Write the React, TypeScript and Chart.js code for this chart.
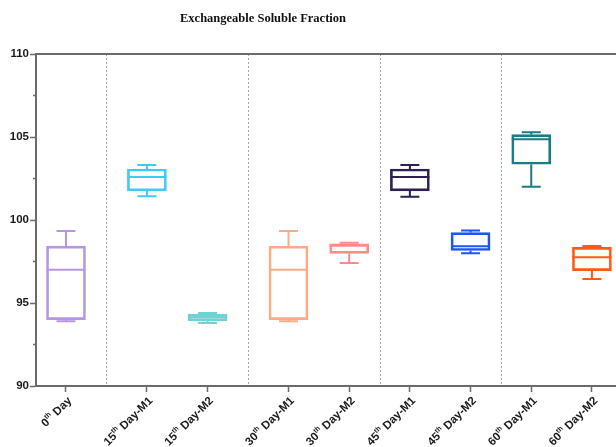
import React, { useEffect, useRef } from "react";
import { Chart, registerables } from "chart.js";

Chart.register(...registerables);

const titleText = "Exchangeable Soluble Fraction";
const categories = [
  "0th Day",
  "15th Day-M1",
  "15th Day-M2",
  "30th Day-M1",
  "30th Day-M2",
  "45th Day-M1",
  "45th Day-M2",
  "60th Day-M1",
  "60th Day-M2",
];
const whiskerLow = [93.9, 101.43, 93.8, 93.9, 97.41, 101.4, 98.0, 102.0, 96.45];
const q1 = [94.0, 101.75, 93.94, 94.0, 97.99, 101.75, 98.16, 103.36, 96.95];
const medians = [97.0, 102.59, 94.16, 97.0, 98.45, 102.59, 98.42, 104.86, 97.75];
const q3 = [98.43, 103.07, 94.34, 98.43, 98.57, 103.07, 99.24, 105.14, 98.35];
const whiskerHigh = [99.34, 103.31, 94.4, 99.34, 98.63, 103.31, 99.36, 105.28, 98.43];
const yTicks = [90, 95, 100, 105, 110];

// layout (not data): slot positions of the categories and group separators
const slots = [0, 4, 7, 11, 14, 17, 20, 23, 26];
const separators = [2, 9, 15.5, 21.5];
const colors = [
  "#b597e3",
  "#3ccbf4",
  "#74d1d1",
  "#ffaa86",
  "#ff8a8a",
  "#2f1f52",
  "#1c55f2",
  "#1a7c84",
  "#ff5a14",
];
const AXIS = "#6b6b6b";
const SANS = "'Liberation Sans', Arial, sans-serif";

const boxPlugin = {
  id: "boxExtras",
  beforeDatasetsDraw(chart: any) {
    const { ctx, chartArea, scales } = chart;
    const x = scales.x;
    ctx.save();
    ctx.strokeStyle = "#a8a8a8";
    ctx.lineWidth = 1;
    ctx.setLineDash([2, 2]);
    separators.forEach((s) => {
      const px = Math.round(x.getPixelForValue(s)) + 0.5;
      ctx.beginPath();
      ctx.moveTo(px, chartArea.top);
      ctx.lineTo(px, chartArea.bottom);
      ctx.stroke();
    });
    ctx.restore();
  },
  afterDatasetsDraw(chart: any) {
    const { ctx, chartArea, scales } = chart;
    const x = scales.x;
    const y = scales.y;
    ctx.save();
    ctx.lineWidth = 2;
    slots.forEach((s, i) => {
      const cx = x.getPixelForValue(s);
      const half = 19.5;
      const cap = 9.5;
      ctx.strokeStyle = colors[i];
      const yMed = y.getPixelForValue(medians[i]);
      const yQ1 = y.getPixelForValue(q1[i]);
      const yQ3 = y.getPixelForValue(q3[i]);
      const yLo = y.getPixelForValue(whiskerLow[i]);
      const yHi = y.getPixelForValue(whiskerHigh[i]);
      ctx.beginPath();
      ctx.moveTo(cx - half, yMed);
      ctx.lineTo(cx + half, yMed);
      ctx.moveTo(cx, yQ3);
      ctx.lineTo(cx, yHi);
      ctx.moveTo(cx - cap, yHi);
      ctx.lineTo(cx + cap, yHi);
      ctx.moveTo(cx, yQ1);
      ctx.lineTo(cx, yLo);
      ctx.moveTo(cx - cap, yLo);
      ctx.lineTo(cx + cap, yLo);
      ctx.stroke();
    });
    ctx.restore();

    // top frame line
    ctx.save();
    ctx.strokeStyle = AXIS;
    ctx.lineWidth = 2;
    ctx.beginPath();
    ctx.moveTo(chartArea.left, chartArea.top);
    ctx.lineTo(chartArea.right, chartArea.top);
    ctx.stroke();
    // minor y ticks
    ctx.lineWidth = 1.5;
    for (let k = 0; k < yTicks.length - 1; k++) {
      const v = (yTicks[k] + yTicks[k + 1]) / 2;
      const py = y.getPixelForValue(v);
      ctx.beginPath();
      ctx.moveTo(chartArea.left - 3, py);
      ctx.lineTo(chartArea.left, py);
      ctx.stroke();
    }
    ctx.restore();
  },
  afterDraw(chart: any) {
    const { ctx, scales, chartArea } = chart;
    const x = scales.x;
    ctx.save();
    // title
    ctx.fillStyle = "#111";
    ctx.font = "bold 12.5px 'Liberation Serif', 'Times New Roman', serif";
    ctx.textAlign = "center";
    ctx.textBaseline = "middle";
    ctx.fillText(titleText, 263, 19);

    // x labels with superscript ordinal
    ctx.fillStyle = "#1a1a1a";
    ctx.textBaseline = "middle";
    ctx.textAlign = "left";
    const mainFont = `bold 11.5px ${SANS}`;
    const supFont = `bold 7px ${SANS}`;
    categories.forEach((label, i) => {
      const m = label.match(/^(\d+)(th)(.*)$/);
      const parts = m ? [m[1], m[2], m[3]] : [label, "", ""];
      ctx.font = mainFont;
      const w0 = ctx.measureText(parts[0]).width;
      const w2 = ctx.measureText(parts[2]).width;
      ctx.font = supFont;
      const w1 = ctx.measureText(parts[1]).width;
      const total = w0 + w1 + w2;
      const cx = x.getPixelForValue(slots[i]);
      ctx.save();
      ctx.translate(cx + 4, chartArea.bottom + 13);
      ctx.rotate(-Math.PI / 4);
      let px = -total;
      ctx.font = mainFont;
      ctx.fillText(parts[0], px, 0);
      px += w0;
      ctx.font = supFont;
      ctx.fillText(parts[1], px, -4);
      px += w1;
      ctx.font = mainFont;
      ctx.fillText(parts[2], px, 0);
      ctx.restore();
    });
    ctx.restore();
  },
};

export default function App() {
  const ref = useRef<HTMLCanvasElement | null>(null);
  useEffect(() => {
    if (!ref.current) return;
    const chart = new Chart(ref.current, {
      type: "bar",
      data: {
        datasets: [
          {
            data: slots.map((s, i) => ({ x: s, y: [q1[i], q3[i]] })) as any,
            backgroundColor: "rgba(255,255,255,0)",
            borderColor: colors,
            borderWidth: 2,
            borderSkipped: false,
            barThickness: 39,
          },
        ],
      },
      options: {
        animation: false,
        responsive: false,
        maintainAspectRatio: false,
        layout: { padding: { top: 54, right: 0, left: 0, bottom: 0 } },
        plugins: {
          legend: { display: false },
          tooltip: { enabled: false },
          title: { display: false },
        },
        scales: {
          x: {
            type: "linear",
            offset: false,
            min: -1.483,
            max: 27.19,
            afterBuildTicks: (scale: any) => {
              scale.ticks = slots.map((v) => ({ value: v }));
            },
            afterFit: (scale: any) => {
              scale.height = 61;
            },
            ticks: { display: false },
            grid: {
              offset: false,
              drawOnChartArea: false,
              drawTicks: true,
              tickLength: 6,
              tickWidth: 1.5,
              tickColor: AXIS,
            },
            border: { display: true, color: AXIS, width: 2 },
          },
          y: {
            type: "linear",
            min: 90,
            max: 110,
            afterBuildTicks: (scale: any) => {
              scale.ticks = yTicks.map((v) => ({ value: v }));
            },
            afterFit: (scale: any) => {
              scale.width = 36;
            },
            ticks: {
              padding: 1,
              color: "#1a1a1a",
              font: { family: SANS, size: 11.5, weight: "bold" },
            },
            grid: {
              drawOnChartArea: false,
              drawTicks: true,
              tickLength: 6,
              tickWidth: 1.5,
              tickColor: AXIS,
            },
            border: { display: true, color: AXIS, width: 2 },
          },
        },
      },
      plugins: [boxPlugin],
    } as any);
    return () => chart.destroy();
  }, []);
  return (
    <div
      style={{
        position: "fixed",
        left: 0,
        top: 0,
        width: 616,
        height: 447,
        background: "#fff",
      }}
    >
      <canvas ref={ref} width={616} height={447} />
    </div>
  );
}
